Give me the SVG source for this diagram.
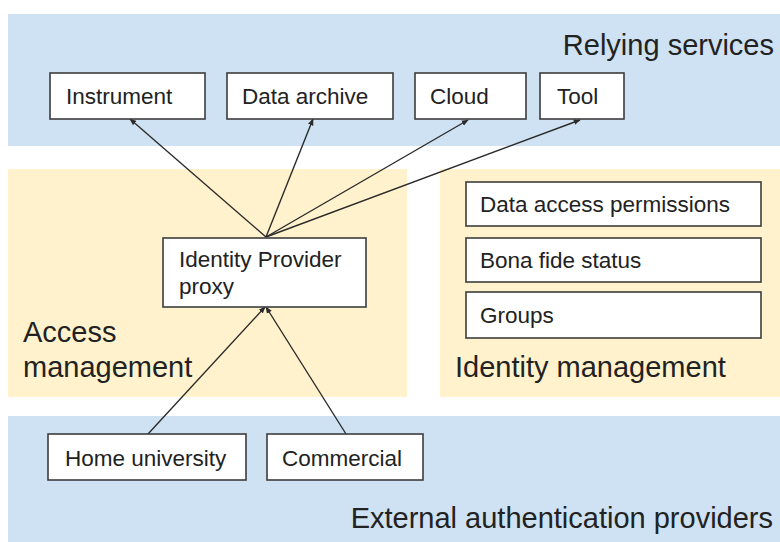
<svg xmlns="http://www.w3.org/2000/svg" width="780" height="542" viewBox="0 0 780 542">
<style>
.bg{fill:#ffffff}
.blue{fill:#cfe2f3}
.orange{fill:#fff2cc}
.box{fill:#ffffff;stroke:#3c3c3c;stroke-width:1.6}
.lbl{font-family:"Liberation Sans",Arial,sans-serif;font-size:22.5px;fill:#222}
.big{font-family:"Liberation Sans",Arial,sans-serif;font-size:29px;fill:#222}
.edge{stroke:#2b2b2b;stroke-width:1.4;fill:none;marker-end:url(#arr)}
</style>
<defs>
<marker id="arr" viewBox="0 0 10 10" refX="9" refY="5" markerWidth="7" markerHeight="7" markerUnits="userSpaceOnUse" orient="auto">
<path d="M0,1 L10,5 L0,9 z" fill="#2b2b2b"/>
</marker>
</defs>
<rect class="bg" x="0" y="0" width="780" height="542"/>
<g id="regions">
<rect class="blue" x="8" y="14" width="772" height="132"/>
<rect class="orange" x="8" y="169" width="399" height="228"/>
<rect class="orange" x="440" y="169" width="340" height="228"/>
<rect class="blue" x="8" y="416" width="772" height="126"/>
<text class="big" x="774" y="55" text-anchor="end">Relying services</text>
<text class="big" x="23" y="342">Access</text>
<text class="big" x="23" y="377">management</text>
<text class="big" x="455" y="377">Identity management</text>
<text class="big" x="773" y="528" text-anchor="end">External authentication providers</text>
</g>
<g id="connectors">
<line class="edge" x1="266" y1="237" x2="130" y2="119"/>
<line class="edge" x1="266" y1="237" x2="313" y2="119"/>
<line class="edge" x1="266" y1="237" x2="468" y2="120"/>
<line class="edge" x1="266" y1="237" x2="580" y2="120"/>
<line class="edge" x1="148" y1="434" x2="265" y2="307"/>
<line class="edge" x1="346" y1="434" x2="266" y2="307"/>
</g>
<g id="instrument"><rect class="box" x="50" y="73" width="155" height="46"/><text class="lbl" x="66" y="104">Instrument</text></g>
<g id="data-archive"><rect class="box" x="227" y="73" width="166" height="46"/><text class="lbl" x="242" y="104">Data archive</text></g>
<g id="cloud"><rect class="box" x="415" y="73" width="111" height="46"/><text class="lbl" x="430" y="104">Cloud</text></g>
<g id="tool"><rect class="box" x="540" y="73" width="84" height="46"/><text class="lbl" x="557" y="104">Tool</text></g>
<g id="idp-proxy"><rect class="box" x="163" y="238" width="203" height="69"/><text class="lbl" x="179" y="267">Identity Provider</text><text class="lbl" x="179" y="294">proxy</text></g>
<g id="data-access"><rect class="box" x="466" y="182" width="295" height="44"/><text class="lbl" x="480" y="212">Data access permissions</text></g>
<g id="bona-fide"><rect class="box" x="466" y="238" width="295" height="44"/><text class="lbl" x="480" y="268">Bona fide status</text></g>
<g id="groups"><rect class="box" x="466" y="292" width="295" height="46"/><text class="lbl" x="480" y="323">Groups</text></g>
<g id="home-university"><rect class="box" x="48" y="434" width="198" height="46"/><text class="lbl" x="65" y="466">Home university</text></g>
<g id="commercial"><rect class="box" x="267" y="434" width="156" height="46"/><text class="lbl" x="282" y="466">Commercial</text></g>
</svg>
